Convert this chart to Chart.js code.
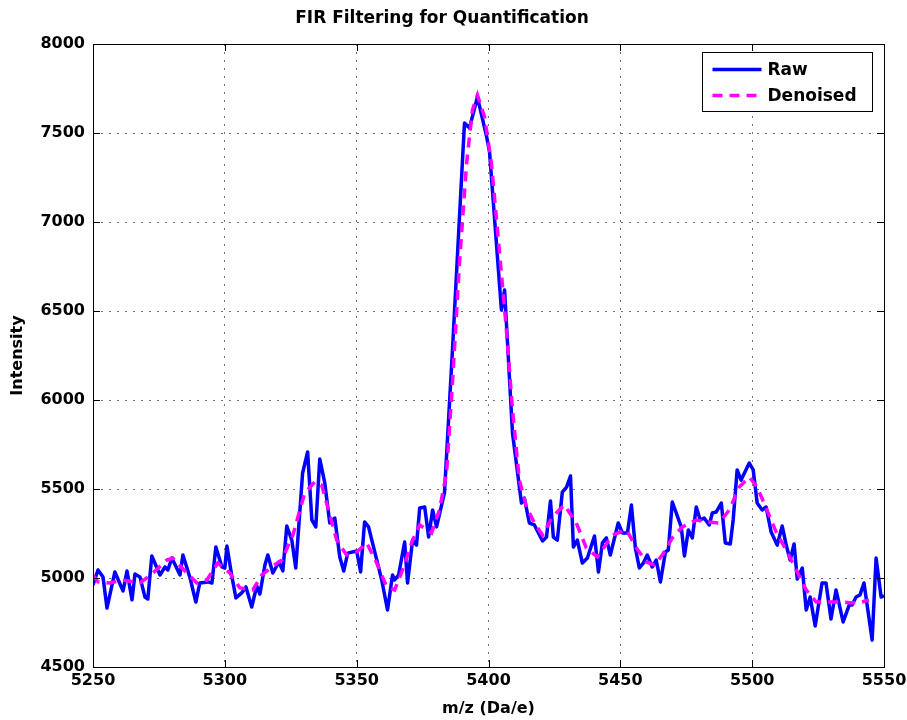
<!DOCTYPE html>
<html>
<head>
<meta charset="utf-8">
<title>FIR Filtering for Quantification</title>
<script src="https://cdn.jsdelivr.net/npm/chart.js@4.4.0/dist/chart.umd.min.js"></script>
<style>
  html, body { margin: 0; padding: 0; background: #fff; }
  #wrap { width: 907px; height: 720px; }
</style>
</head>
<body>
<div id="wrap"><canvas id="firChart" width="907" height="720"></canvas></div>
<script>
// raw spectrum (m/z, intensity)
const rawMz = [
  5250.0, 5251.9, 5253.8, 5255.3, 5258.3, 5261.4, 5262.9, 5264.8, 5265.9, 5267.8,
  5269.7, 5270.8, 5272.3, 5275.4, 5277.3, 5278.4, 5279.9, 5283.0, 5284.1, 5286.7,
  5289.0, 5290.5, 5293.6, 5295.1, 5296.6, 5298.9, 5300.0, 5300.8, 5302.7, 5304.2,
  5306.4, 5308.0, 5310.2, 5312.1, 5313.3, 5315.2, 5316.3, 5318.2, 5320.5, 5322.0,
  5323.5, 5325.4, 5326.9, 5329.5, 5331.4, 5333.0, 5334.5, 5336.0, 5337.9, 5339.8,
  5341.7, 5343.6, 5345.1, 5346.6, 5350.0, 5351.5, 5353.0, 5354.5, 5359.5, 5361.7,
  5363.6, 5364.4, 5365.9, 5368.2, 5369.3, 5371.2, 5372.7, 5373.9, 5375.8, 5377.3,
  5378.8, 5380.3, 5383.3, 5386.4, 5390.2, 5390.9, 5392.8, 5395.8, 5399.3, 5400.4,
  5404.9, 5406.1, 5409.1, 5412.5, 5413.6, 5415.5, 5417.4, 5420.5, 5422.0, 5423.5,
  5424.6, 5426.1, 5428.0, 5429.6, 5431.1, 5432.2, 5433.7, 5435.6, 5437.5, 5440.2,
  5441.7, 5443.2, 5444.7, 5446.2, 5449.2, 5450.8, 5452.7, 5454.2, 5455.7, 5457.2,
  5458.7, 5460.2, 5462.1, 5463.6, 5465.2, 5467.1, 5468.2, 5469.7, 5473.1, 5474.3,
  5475.8, 5477.3, 5478.8, 5480.3, 5481.8, 5483.7, 5484.9, 5486.4, 5488.3, 5489.8,
  5491.7, 5492.8, 5494.3, 5495.8, 5498.9, 5500.4, 5501.9, 5503.8, 5505.3, 5507.2,
  5509.5, 5511.4, 5512.9, 5514.4, 5515.9, 5517.1, 5519.0, 5520.5, 5522.0, 5523.9,
  5526.5, 5528.0, 5529.9, 5531.8, 5534.5, 5536.8, 5537.9, 5539.4, 5540.9, 5542.4,
  5545.5, 5547.0, 5548.9, 5550.0
];
const rawIntensity = [
  4961, 5045, 5006, 4831, 5034, 4927, 5039, 4877, 5022, 5006,
  4893, 4882, 5124, 5017, 5062, 5045, 5112, 5017, 5129, 5006,
  4865, 4972, 4978, 4972, 5174, 5062, 5056, 5180, 5006, 4888,
  4916, 4950, 4837, 4955, 4910, 5073, 5129, 5028, 5090, 5040,
  5292, 5213, 5056, 5590, 5708, 5326, 5287, 5669, 5534, 5309,
  5337, 5118, 5039, 5140, 5152, 5034, 5315, 5287, 4989, 4820,
  5017, 4989, 5017, 5202, 4972, 5213, 5185, 5393, 5399, 5230,
  5382, 5287, 5478, 6298, 7365, 7556, 7528, 7702, 7478, 7393,
  6506, 6618, 5815, 5421, 5449, 5309, 5298, 5208, 5230, 5433,
  5230, 5213, 5483, 5511, 5573, 5174, 5213, 5084, 5112, 5236,
  5034, 5197, 5225, 5129, 5309, 5253, 5253, 5410, 5169, 5056,
  5084, 5129, 5062, 5101, 4978, 5146, 5157, 5427, 5287, 5124,
  5270, 5225, 5399, 5326, 5337, 5298, 5365, 5371, 5421, 5197,
  5191, 5326, 5607, 5550, 5646, 5607, 5421, 5382, 5399, 5258,
  5185, 5292, 5185, 5101, 5191, 4994, 5056, 4820, 4893, 4730,
  4972, 4972, 4770, 4933, 4753, 4848, 4848, 4893, 4905, 4972,
  4652, 5112, 4893, 4900
];

// FIR filtered curve
const denoisedMz = [
  5250.0, 5251.9, 5256.4, 5261.4, 5267.8, 5272.3, 5278.0, 5280.3, 5285.6, 5289.4,
  5293.2, 5297.3, 5301.9, 5305.7, 5310.6, 5314.0, 5317.8, 5321.6, 5325.8, 5330.3,
  5334.1, 5336.7, 5339.0, 5342.4, 5346.2, 5350.0, 5353.8, 5357.6, 5361.4, 5364.4,
  5367.4, 5371.2, 5373.9, 5378.4, 5381.4, 5384.1, 5386.4, 5389.0, 5391.7, 5393.9,
  5395.8, 5398.5, 5401.1, 5404.2, 5406.8, 5409.1, 5411.7, 5414.4, 5417.4, 5420.5,
  5424.2, 5428.8, 5433.3, 5437.1, 5441.3, 5447.0, 5452.3, 5456.1, 5459.9, 5462.9,
  5465.9, 5469.7, 5473.5, 5478.8, 5482.6, 5487.5, 5491.3, 5495.1, 5498.9, 5501.9,
  5505.3, 5509.1, 5512.9, 5516.7, 5520.5, 5524.3, 5529.2, 5534.1, 5537.9, 5541.7,
  5544.3
];
const denoisedIntensity = [
  5017, 4978, 4972, 4989, 4972, 5022, 5101, 5112, 5028, 4972,
  4989, 5084, 5028, 4944, 4933, 5017, 5062, 5101, 5241, 5478,
  5540, 5523, 5399, 5213, 5129, 5146, 5197, 5084, 4950, 4933,
  5045, 5213, 5298, 5253, 5382, 5590, 6112, 6770, 7331, 7629,
  7713, 7590, 7331, 6826, 6393, 5944, 5551, 5399, 5309, 5241,
  5343, 5410, 5309, 5169, 5118, 5241, 5270, 5169, 5090, 5073,
  5129, 5225, 5287, 5326, 5315, 5309, 5382, 5511, 5567, 5511,
  5393, 5258, 5157, 5045, 4933, 4865, 4865, 4865, 4860, 4865,
  4877
];

const xTicks = [5250, 5300, 5350, 5400, 5450, 5500, 5550];
const yTicks = [4500, 5000, 5500, 6000, 6500, 7000, 7500, 8000];

const FONT = 'DejaVu Sans';

function toPoints(xs, ys) {
    return xs.map((x, i) => ({ x: x, y: ys[i] }));
}

// box round the axes, inward ticks and the legend box (matlab look)
const matlabAxes = {
    id: 'matlabAxes',
    afterDatasetsDraw(chart) {
        const ctx = chart.ctx;
        const a = chart.chartArea;
        const sx = chart.scales.x, sy = chart.scales.y;
        ctx.save();
        ctx.strokeStyle = '#000';
        ctx.lineWidth = 1;
        ctx.setLineDash([]);
        ctx.strokeRect(Math.round(a.left) + 0.5, Math.round(a.top) + 0.5,
            Math.round(a.right - a.left), Math.round(a.bottom - a.top));
        const len = 7;
        ctx.beginPath();
        xTicks.forEach(v => {
            const p = Math.round(sx.getPixelForValue(v)) + 0.5;
            ctx.moveTo(p, a.bottom); ctx.lineTo(p, a.bottom - len);
            ctx.moveTo(p, a.top); ctx.lineTo(p, a.top + len);
        });
        yTicks.forEach(v => {
            const p = Math.round(sy.getPixelForValue(v)) + 0.5;
            ctx.moveTo(a.left, p); ctx.lineTo(a.left + len, p);
            ctx.moveTo(a.right, p); ctx.lineTo(a.right - len, p);
        });
        ctx.stroke();

        // legend
        const bw = 170, bh = 59;
        const bx = Math.round(a.right - 12 - bw) + 0.5;
        const by = Math.round(a.top + 8) + 0.5;
        ctx.fillStyle = '#fff';
        ctx.fillRect(bx, by, bw, bh);
        ctx.strokeStyle = '#000';
        ctx.strokeRect(bx, by, bw, bh);
        ctx.font = 'bold 17px "' + FONT + '"';
        ctx.textBaseline = 'middle';
        ctx.textAlign = 'left';
        chart.data.datasets.forEach((ds, i) => {
            const yy = by + 17 + i * 26;
            ctx.beginPath();
            ctx.strokeStyle = ds.borderColor;
            ctx.lineWidth = 3.5;
            ctx.setLineDash(ds.borderDash || []);
            ctx.moveTo(bx + 10, yy);
            ctx.lineTo(bx + 59, yy);
            ctx.stroke();
            ctx.fillStyle = '#000';
            ctx.fillText(ds.label, bx + 65, yy + 1);
        });
        ctx.restore();
    }
};

const ctx = document.getElementById('firChart').getContext('2d');
const firChart = new Chart(ctx, {
    type: 'line',
    data: {
        datasets: [{
            label: 'Raw',
            data: toPoints(rawMz, rawIntensity),
            borderColor: '#0000ff',
            borderWidth: 3.5,
            borderJoinStyle: 'round',
            pointRadius: 0,
            tension: 0,
            order: 2
        }, {
            label: 'Denoised',
            data: toPoints(denoisedMz, denoisedIntensity),
            borderColor: '#ff00ff',
            borderWidth: 3.5,
            borderDash: [10, 7],
            pointRadius: 0,
            tension: 0,
            order: 1
        }]
    },
    options: {
        responsive: false,
        animation: false,
        devicePixelRatio: 1,
        layout: { padding: { left: 0, right: 23, top: 0, bottom: 0 } },
        plugins: {
            legend: { display: false },
            tooltip: { enabled: false },
            title: {
                display: true,
                text: 'FIR Filtering for Quantification',
                color: '#000',
                font: { family: FONT, size: 17, weight: 'bold' },
                padding: { top: 8, bottom: 15.6 }
            }
        },
        scales: {
            x: {
                type: 'linear',
                min: 5250,
                max: 5550,
                afterBuildTicks: s => { s.ticks = xTicks.map(v => ({ value: v })); },
                afterFit: s => { s.height = 53; s.paddingLeft = 0; s.paddingRight = 0; },
                ticks: {
                    color: '#000',
                    font: { family: FONT, size: 16, weight: 'bold' },
                    padding: 4,
                    maxRotation: 0,
                    callback: v => String(v)
                },
                grid: { color: 'rgba(0,0,0,0.55)', lineWidth: 1, drawTicks: false },
                border: { display: false, dash: [2, 6] },
                title: {
                    display: true,
                    text: 'm/z (Da/e)',
                    color: '#000',
                    font: { family: FONT, size: 16, weight: 'bold' },
                    padding: { top: 0, bottom: 2 }
                }
            },
            y: {
                type: 'linear',
                min: 4500,
                max: 8000,
                afterBuildTicks: s => { s.ticks = yTicks.map(v => ({ value: v })); },
                afterFit: s => { s.width = 93; },
                ticks: {
                    color: '#000',
                    font: { family: FONT, size: 16, weight: 'bold' },
                    padding: 8,
                    callback: v => String(v)
                },
                grid: { color: 'rgba(0,0,0,0.55)', lineWidth: 1, drawTicks: false },
                border: { display: false, dash: [2, 6] },
                title: {
                    display: true,
                    text: 'Intensity',
                    color: '#000',
                    font: { family: FONT, size: 16, weight: 'bold' },
                    padding: { top: 8, bottom: 0 }
                }
            }
        }
    },
    plugins: [matlabAxes]
});
</script>
</body>
</html>
